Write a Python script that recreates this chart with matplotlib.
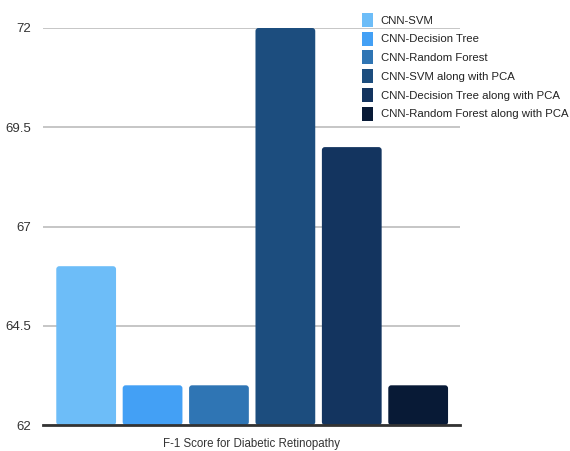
import matplotlib
matplotlib.use("Agg")
import matplotlib.pyplot as plt
from matplotlib.patches import FancyBboxPatch

plt.rcParams['font.family'] = ['Liberation Sans', 'DejaVu Sans']

models = [
    "CNN-SVM",
    "CNN-Decision Tree",
    "CNN-Random Forest",
    "CNN-SVM along with PCA",
    "CNN-Decision Tree along with PCA",
    "CNN-Random Forest along with PCA",
]
f1_scores = [66.0, 63.0, 63.0, 72.0, 69.0, 63.0]
colors = ["#6dbdf8", "#43a0f5", "#2f75b4", "#1c4d7e", "#13345f", "#081a36"]
yticks = [62, 64.5, 67, 69.5, 72]
ytick_labels = ["62", "64.5", "67", "69.5", "72"]
xlabel = "F-1 Score for Diabetic Retinopathy"

W, H = 570, 451
fig = plt.figure(figsize=(W / 100, H / 100), dpi=100)
ax = fig.add_axes([43 / W, 1 - 425 / H, (460 - 43) / W, (425 - 28) / H])

base = yticks[0]
positions = list(range(len(models)))
bars = ax.bar(positions, [v - base for v in f1_scores], bottom=base,
              width=0.9, color=colors, zorder=3)

# replace each bar with a softly rounded box of the same geometry
rx, ry = 0.045, 0.075
for b, c in zip(bars, colors):
    b.set_visible(False)
    x0, y0 = b.get_x(), b.get_y()
    w, h = b.get_width(), b.get_height()
    ax.add_patch(FancyBboxPatch((x0, y0), w, h,
                                boxstyle=f"round,pad=0,rounding_size={rx}",
                                mutation_aspect=ry / rx,
                                facecolor=c, edgecolor="none", zorder=3))

ax.set_xlim(-0.65, len(models) - 1 + 0.63)
ax.set_ylim(base, yticks[-1])
ax.set_yticks(yticks)
ax.set_yticklabels(ytick_labels)
ax.set_xticks([])
ax.tick_params(axis="y", length=0, pad=8.5, labelsize=9.5, labelcolor="#333333")
for s in ax.spines.values():
    s.set_visible(False)
ax.set_axisbelow(True)
ax.yaxis.grid(True, color="#c6c6c6", linewidth=1.4)
ax.axhline(base, color="#333333", linewidth=2.0, zorder=4, clip_on=False)

ax.set_xlabel(xlabel, fontsize=8.3, color="#333333", labelpad=9)

handles = [plt.Rectangle((0, 0), 1, 1, facecolor=c, edgecolor="none") for c in colors]
fig.legend(handles, models, loc="upper left",
           bbox_to_anchor=(362 / W, 1 - 13 / H), frameon=False,
           fontsize=8.2, handlelength=0.95, handleheight=1.52,
           handletextpad=0.7, labelspacing=0.41, borderaxespad=0,
           borderpad=0, labelcolor="#222222")

fig.savefig("out.png", dpi=100)
